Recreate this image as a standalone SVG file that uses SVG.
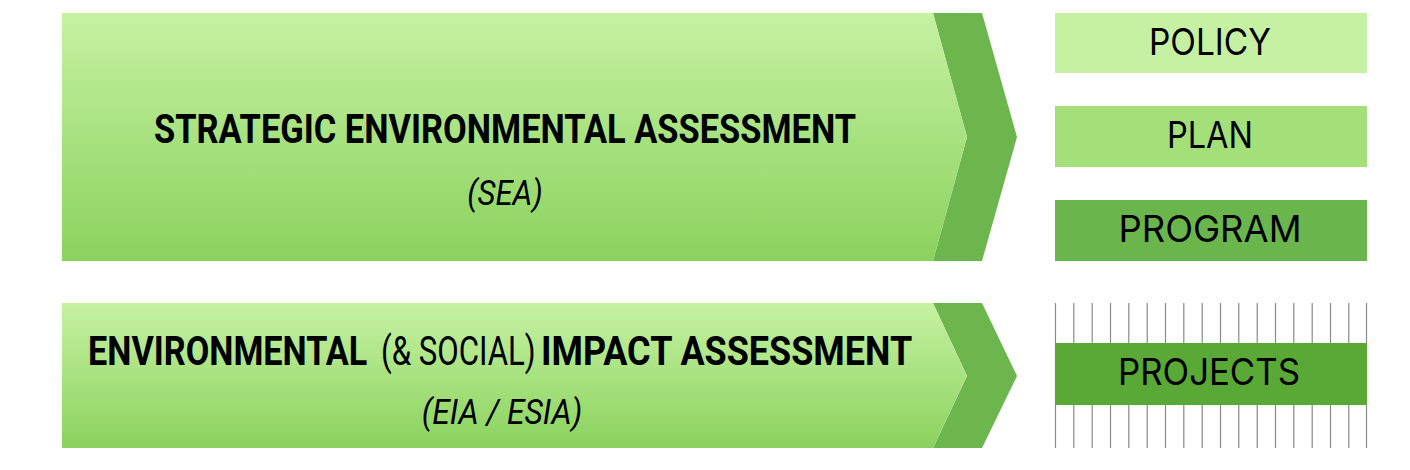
<svg xmlns="http://www.w3.org/2000/svg" width="1410" height="470" viewBox="0 0 1410 470">
<defs>
<linearGradient id="g1" x1="0" y1="0" x2="0" y2="1">
<stop offset="0" stop-color="#c6f2a2"/>
<stop offset="1" stop-color="#8bd25e"/>
</linearGradient>
<style>
.light{fill:url(#g1)}
.dark{fill:#6db64d}
.title{font-family:Roboto,"Liberation Sans",sans-serif;font-weight:700;fill:#000}
.reg{font-family:Roboto,"Liberation Sans",sans-serif;font-weight:400;fill:#000}
.abbr{font-family:Roboto,"Liberation Sans",sans-serif;font-style:italic;font-weight:400;fill:#000;font-size:35px}
.lbl{font-family:Inter,"Noto Sans","Liberation Sans",sans-serif;font-weight:400;fill:#000;font-size:37px}
.grid line{stroke:#8a8a8a;stroke-width:1.2}
</style>
</defs>
<rect width="1410" height="470" fill="#ffffff"/>
<g id="sea">
<polygon class="dark" points="933,13 982,13 1017,137 982,261 933,261 967,137"/>
<polygon class="light" points="62,13 933,13 967,137 933,261 62,261"/>
<text class="title" x="505" y="143" font-size="40" text-anchor="middle" textLength="702" lengthAdjust="spacingAndGlyphs">STRATEGIC ENVIRONMENTAL ASSESSMENT</text>
<text class="abbr" transform="translate(505,205) scale(0.85,1)" x="0" y="0" text-anchor="middle" textLength="89" lengthAdjust="spacingAndGlyphs">(SEA)</text>
</g>
<g id="eia">
<polygon class="dark" points="933,303 982,303 1017,376 982,448 933,448 967,376"/>
<polygon class="light" points="62,303 933,303 967,376 933,448 62,448"/>
<text class="title" transform="translate(88,365) scale(0.8,1)" x="0" y="0" font-size="41" textLength="349" lengthAdjust="spacingAndGlyphs">ENVIRONMENTAL</text>
<text class="reg" transform="translate(381,365) scale(0.7,1)" x="0" y="0" font-size="41" textLength="221" lengthAdjust="spacingAndGlyphs">(&amp; SOCIAL)</text>
<text class="title" transform="translate(541,365) scale(0.8,1)" x="0" y="0" font-size="41" textLength="464" lengthAdjust="spacingAndGlyphs">IMPACT ASSESSMENT</text>
<text class="abbr" transform="translate(502,424) scale(0.85,1)" x="0" y="0" text-anchor="middle" textLength="189" lengthAdjust="spacingAndGlyphs">(EIA / ESIA)</text>
</g>
<g id="policy">
<rect x="1055" y="13" width="312" height="60" fill="#c6f0a2"/>
<text class="lbl" x="1210" y="55" text-anchor="middle" textLength="122" lengthAdjust="spacingAndGlyphs">POLICY</text>
</g>
<g id="plan">
<rect x="1055" y="106" width="312" height="61" fill="#a4df7a"/>
<text class="lbl" x="1210" y="148" text-anchor="middle" textLength="86" lengthAdjust="spacingAndGlyphs">PLAN</text>
</g>
<g id="program">
<rect x="1055" y="200" width="312" height="61" fill="#6bb64c"/>
<text class="lbl" x="1210" y="242" text-anchor="middle" textLength="183" lengthAdjust="spacingAndGlyphs">PROGRAM</text>
</g>
<g id="projects">
<g class="grid">
<line x1="1055.5" y1="303" x2="1055.5" y2="448"/>
<line x1="1073.8" y1="303" x2="1073.8" y2="448"/>
<line x1="1092.2" y1="303" x2="1092.2" y2="448"/>
<line x1="1110.5" y1="303" x2="1110.5" y2="448"/>
<line x1="1128.8" y1="303" x2="1128.8" y2="448"/>
<line x1="1147.2" y1="303" x2="1147.2" y2="448"/>
<line x1="1165.5" y1="303" x2="1165.5" y2="448"/>
<line x1="1183.8" y1="303" x2="1183.8" y2="448"/>
<line x1="1202.2" y1="303" x2="1202.2" y2="448"/>
<line x1="1220.5" y1="303" x2="1220.5" y2="448"/>
<line x1="1238.8" y1="303" x2="1238.8" y2="448"/>
<line x1="1257.2" y1="303" x2="1257.2" y2="448"/>
<line x1="1275.5" y1="303" x2="1275.5" y2="448"/>
<line x1="1293.8" y1="303" x2="1293.8" y2="448"/>
<line x1="1312.2" y1="303" x2="1312.2" y2="448"/>
<line x1="1330.5" y1="303" x2="1330.5" y2="448"/>
<line x1="1348.8" y1="303" x2="1348.8" y2="448"/>
<line x1="1366.5" y1="303" x2="1366.5" y2="448"/>
</g>
<rect x="1055" y="343" width="312" height="62" fill="#5aa936"/>
<text class="lbl" x="1209" y="385" text-anchor="middle" textLength="182" lengthAdjust="spacingAndGlyphs">PROJECTS</text>
</g>
</svg>
